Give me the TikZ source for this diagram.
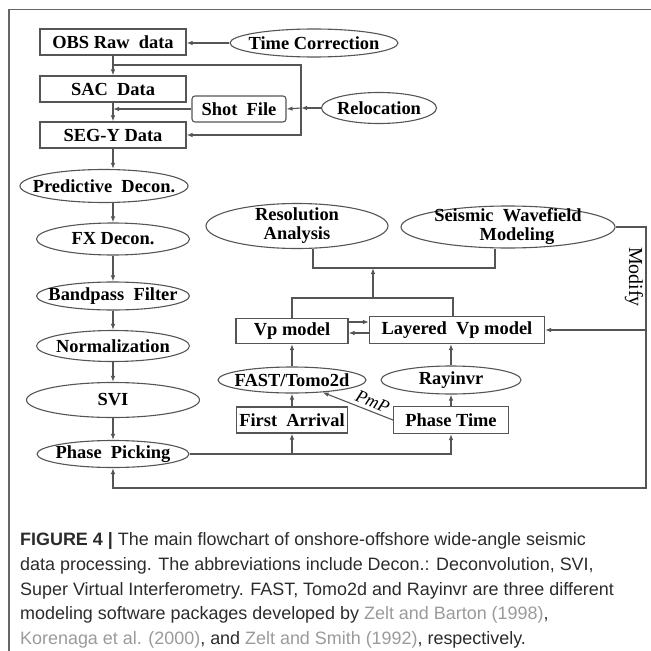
\documentclass[tikz,border=0pt]{standalone}
\usepackage{fontspec}
\setmainfont{Liberation Serif}
\newfontfamily\capfont{Liberation Sans}
\usetikzlibrary{shapes.geometric,arrows.meta,positioning}

\definecolor{linegray}{HTML}{555555}
\definecolor{framegray}{HTML}{666666}
\definecolor{captext}{HTML}{2B2B2B}
\definecolor{citegray}{HTML}{9A9A9A}

\tikzset{
  flow/.style={draw=linegray, line width=1.1bp},
  arr/.style={flow, -{Latex[length=6bp,width=4.5bp]}},
  boxfont/.style={font=\fontsize{18.5}{19}\selectfont\bfseries},
  box/.style={boxfont, draw=linegray, line width=1.1bp, rectangle,
    inner sep=0pt, minimum height=26bp},
  oval/.style={draw=linegray, line width=1.1bp, ellipse, inner sep=0pt,
    label={[boxfont, align=center]center:#1}},
}

\begin{document}
\begin{tikzpicture}[x=1bp,y=-1bp]
\useasboundingbox (0,0) rectangle (651,651);
% frame
\draw[framegray, line width=1.5bp] (651,9.5) -- (9,9.5) -- (9,651);

% raw data preparation
\node[box, minimum width=146bp] (obs) at (113,42) {OBS Raw\ \ data};
\node[oval={Time Correction}, minimum width=168bp, minimum height=28bp] (tcorr) at (314,43) {};
\node[box, minimum width=146bp] (sac) at (113,89) {SAC\ \ Data};
\node[box, rounded corners=3bp, minimum width=94bp] (shot) at (239,109) {Shot\ \ File};
\node[oval=Relocation, minimum width=115bp, minimum height=31bp] (reloc) at (379,108) {};
\node[box, minimum width=146bp] (segy) at (113,135) {SEG-Y Data};
\coordinate (split) at (113,65);
\coordinate (shotin) at (301,108);

% processing column
\node[oval={Predictive\ \ Decon.}, minimum width=168bp, minimum height=33bp] (pdecon) at (104,186) {};
\node[oval={FX Decon.}, minimum width=153bp, minimum height=32bp] (fxdecon) at (113,239) {};
\node[oval={Bandpass\ \ Filter}, minimum width=153bp, minimum height=28bp] (bandpass) at (113,296) {};
\node[oval=Normalization, minimum width=153bp, minimum height=31bp] (normal) at (113,346) {};
\node[oval=SVI, minimum width=173bp, minimum height=35bp] (svi) at (113,400) {};
\node[oval={Phase\ \ Picking}, minimum width=152bp, minimum height=27bp] (ppick) at (113,454) {};

% modeling
\node[oval={Resolution\\Analysis}, minimum width=182bp, minimum height=45bp] (resol) at (297,226) {};
\node[oval={Seismic\ \ Wavefield\\\hspace*{18bp}Modeling}, minimum width=214bp, minimum height=42bp] (wavefield) at (508,227) {};
\node[box, minimum width=112bp, minimum height=25bp] (vp) at (292,331) {Vp model};
\node[box, minimum width=175bp, minimum height=27bp] (layvp) at (457,330) {Layered\ \ Vp model};
\node[oval=FAST/Tomo2d, minimum width=148bp, minimum height=26bp] (fast) at (292,380) {};
\node[oval=Rayinvr, minimum width=140bp, minimum height=28bp] (rayinvr) at (451,380) {};
\node[box, minimum width=111bp] (first) at (292,420) {First\ \ Arrival};
\node[box, minimum width=115bp, minimum height=27bp] (ptime) at (451,420) {Phase Time};
\coordinate (modmerge) at (373,298);
\coordinate (evalmerge) at (373,268);
\coordinate (loopcorner) at (646,488);
\node[rotate=-90, font=\fontsize{20}{20}\selectfont] (modify) at (634,277) {Modify};

% connectors
\draw[arr] (tcorr.west) -- (tcorr.west -| obs.east);
\draw[arr] (obs.south) -- (sac.north);
\draw[arr] (split) -| (shotin) |- (segy.east);
\draw[arr] (reloc.west) -- (shotin);
\draw[arr] (shotin) -- (shot.east);
\draw[arr] (shot.west) -- (shot.west -| sac.south);
\draw[arr] (sac.south) -- (segy.north);
\draw[arr] (segy.south) -- (segy.south |- pdecon.north);
\draw[arr] (fxdecon.north |- pdecon.south) -- (fxdecon.north);
\draw[arr] (fxdecon.south) -- (bandpass.north);
\draw[arr] (bandpass.south) -- (normal.north);
\draw[arr] (normal.south) -- (svi.north);
\draw[arr] (svi.south) -- (ppick.north);

\draw[arr] (ppick.east) -| (ptime.south);
\draw[arr] (first.south |- ppick.east) -- (first.south);
\draw[arr] (first.north) -- (fast.south);
\draw[arr] (fast.north) -- (vp.south);
\draw[arr] (ptime.north) -- (rayinvr.south);
\draw[arr] (rayinvr.north) -- (rayinvr.north |- layvp.south);
\draw[arr] (ptime.west) -- (fast.-22)
  node[pos=0.34, rotate=-22.5, anchor=south, inner sep=3bp,
    font=\fontsize{18}{19}\selectfont] (pmp) {\textit{PmP}};

\draw[arr] ([yshift=9bp]vp.east) -- ([yshift=9bp]vp.east -| layvp.west);
\draw[arr] ([yshift=-3bp]layvp.west) -- ([yshift=-3bp]layvp.west -| vp.east);
\draw[flow] (vp.north) |- (modmerge) -| ([xshift=-4bp]layvp.north);
\draw[arr] (modmerge) -- (evalmerge);
\draw[flow] ([xshift=16bp]resol.south) |- (evalmerge) -| ([xshift=-13bp]wavefield.south);

\draw[arr] (wavefield.east) -| (loopcorner) -| (ppick.south);
\draw[arr] (loopcorner |- layvp.east) -- (layvp.east);

% caption
\node[anchor=north west, align=left, inner sep=0pt, text=captext,
  font=\capfont\fontsize{18}{25}\selectfont] (caption) at (20,532)
  {\textbf{FIGURE 4 |} The main flowchart of onshore-offshore wide-angle seismic\\
   data processing. The abbreviations include Decon.: Deconvolution, SVI,\\
   Super Virtual Interferometry. FAST, Tomo2d and Rayinvr are three different\\
   modeling software packages developed by \textcolor{citegray}{Zelt and Barton (1998)},\\
   \textcolor{citegray}{Korenaga et al. (2000)}, and \textcolor{citegray}{Zelt and Smith (1992)}, respectively.};
\end{tikzpicture}
\end{document}
